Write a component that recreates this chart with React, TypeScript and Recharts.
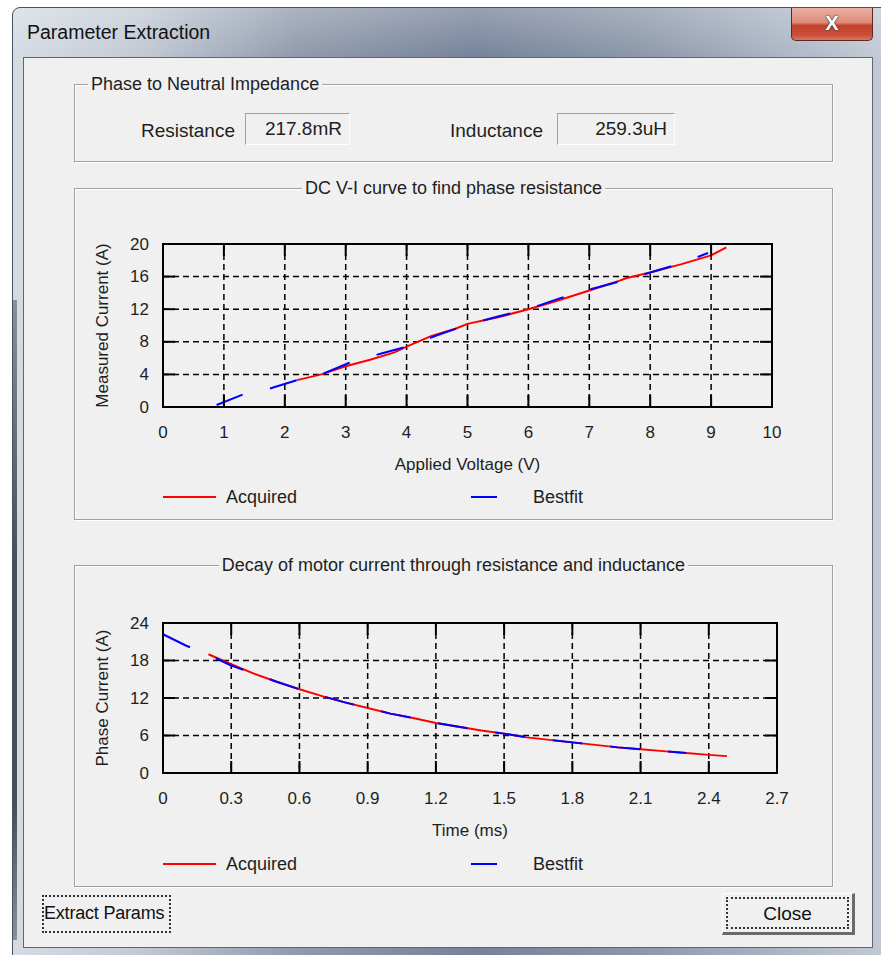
import React from 'react';
import { CartesianGrid, Line, LineChart, ReferenceArea, XAxis, YAxis } from 'recharts';

// DC V-I curve (Applied Voltage V -> Measured Current A)
const dcAcquiredVolts = [2.2, 2.6, 3.0, 3.4, 3.8, 4.0, 4.4, 4.8, 5.0, 5.5, 6.0, 6.5, 7.0, 7.5, 7.6, 8.0, 8.5, 9.0, 9.25];
const dcAcquiredAmps = [3.3, 4.0, 5.0, 5.8, 6.7, 7.4, 8.7, 9.6, 10.2, 11.0, 12.0, 13.1, 14.3, 15.5, 15.8, 16.5, 17.5, 18.6, 19.6];
const dcBestfitVolts = [0.88, 1.32, 1.77, 2.2, 2.6, 3.05, 3.6, 4.0, 4.5, 5.0, 5.5, 6.0, 6.5, 7.0, 7.5, 8.0, 8.5, 8.95];
const dcBestfitAmps = [0.25, 1.55, 2.3, 3.3, 4.0, 5.4, 6.6, 7.4, 8.8, 10.1, 11.1, 12.0, 13.3, 14.4, 15.4, 16.5, 17.6, 18.9];
const dcVoltTicks = [0, 1, 2, 3, 4, 5, 6, 7, 8, 9, 10];
const dcAmpTicks = [0, 4, 8, 12, 16, 20];

// Current decay (Time ms -> Phase Current A)
const decayAcquiredMs = [0.2, 0.3, 0.4, 0.5, 0.6, 0.7, 0.8, 0.9, 1.0, 1.1, 1.2, 1.3, 1.4, 1.5, 1.6, 1.7, 1.8, 1.9, 2.0, 2.1, 2.2, 2.3, 2.4, 2.48];
const decayAcquiredAmps = [19.0, 17.4, 15.9, 14.6, 13.4, 12.3, 11.3, 10.4, 9.5, 8.8, 8.0, 7.4, 6.8, 6.3, 5.7, 5.3, 4.9, 4.5, 4.1, 3.8, 3.5, 3.2, 2.9, 2.7];
const decayBestfitMs = [0, 0.1, 0.2, 0.3, 0.4, 0.5, 0.6, 0.7, 0.8, 0.9, 1.0, 1.1, 1.2, 1.3, 1.4, 1.5, 1.6, 1.7, 1.8, 1.9, 2.0, 2.1, 2.2, 2.3];
const decayBestfitAmps = [22.2, 20.4, 18.9, 17.2, 15.9, 14.6, 13.4, 12.3, 11.3, 10.4, 9.5, 8.8, 8.0, 7.4, 6.8, 6.3, 5.7, 5.3, 4.9, 4.5, 4.1, 3.8, 3.5, 3.2];
const decayMsTicks = [0, 0.3, 0.6, 0.9, 1.2, 1.5, 1.8, 2.1, 2.4, 2.7];
const decayAmpTicks = [0, 6, 12, 18, 24];

const legendItems = [
  { name: 'Acquired', color: '#ff0000', lineWidth: 53 },
  { name: 'Bestfit', color: '#0000ff', lineWidth: 26 },
];

const FONT = '"Liberation Sans", Arial, sans-serif';
const TEXT = '#1e1e1e';

const zip = (xs: number[], ys: number[]) => xs.map((x, i) => ({ x, y: ys[i] }));

function makeXTick(plotHeight: number) {
  return (props: any) => {
    const { x, y, payload } = props;
    return (
      <g>
        <line x1={x} y1={y} x2={x} y2={y - 12} stroke="#000" strokeWidth={2} />
        <line x1={x} y1={y - plotHeight} x2={x} y2={y - plotHeight + 12} stroke="#000" strokeWidth={2} />
        <text x={x} y={y + 25} textAnchor="middle" dominantBaseline="central" fontSize={17} fill={TEXT}>
          {payload.value}
        </text>
      </g>
    );
  };
}

function makeYTick(plotWidth: number) {
  return (props: any) => {
    const { x, y, payload } = props;
    return (
      <g>
        <line x1={x} y1={y} x2={x + 12} y2={y} stroke="#000" strokeWidth={2} />
        <line x1={x + plotWidth} y1={y} x2={x + plotWidth - 12} y2={y} stroke="#000" strokeWidth={2} />
        <text x={x - 14} y={y} textAnchor="end" dominantBaseline="central" fontSize={17} fill={TEXT}>
          {payload.value}
        </text>
      </g>
    );
  };
}

interface CurveChartProps {
  left: number;
  top: number;
  width: number;
  height: number;
  marginTop: number;
  marginRight: number;
  xAxisHeight: number;
  xLabel: string;
  yLabel: string;
  xTicks: number[];
  yTicks: number[];
  acquired: { x: number; y: number }[];
  bestfit: { x: number; y: number }[];
  dash: string;
}

function CurveChart(p: CurveChartProps) {
  const yAxisWidth = 83;
  const plotWidth = p.width - yAxisWidth - p.marginRight;
  const plotHeight = p.height - p.marginTop - p.xAxisHeight;
  const xMax = p.xTicks[p.xTicks.length - 1];
  const yMax = p.yTicks[p.yTicks.length - 1];
  return (
    <div style={{ position: 'absolute', left: p.left, top: p.top }}>
      <LineChart
        width={p.width}
        height={p.height}
        margin={{ top: p.marginTop, right: p.marginRight, bottom: 0, left: 0 }}
        style={{ fontFamily: FONT }}
      >
        <CartesianGrid stroke="#000" strokeWidth={1.5} strokeDasharray="6 4" />
        <XAxis
          dataKey="x"
          type="number"
          domain={[0, xMax]}
          ticks={p.xTicks}
          interval={0}
          height={p.xAxisHeight}
          axisLine={false}
          tickLine={false}
          tickSize={0}
          tickMargin={0}
          tick={makeXTick(plotHeight)}
          label={{ value: p.xLabel, position: 'insideBottom', offset: p.xAxisHeight - 63, fontSize: 17, fill: TEXT }}
        />
        <YAxis
          dataKey="y"
          type="number"
          domain={[0, yMax]}
          ticks={p.yTicks}
          interval={0}
          width={yAxisWidth}
          axisLine={false}
          tickLine={false}
          tickSize={0}
          tickMargin={0}
          tick={makeYTick(plotWidth)}
          label={{
            value: p.yLabel,
            angle: -90,
            position: 'insideLeft',
            offset: 22,
            fontSize: 17,
            fill: TEXT,
            style: { textAnchor: 'middle' },
          }}
        />
        <ReferenceArea x1={0} x2={xMax} y1={0} y2={yMax} fill="none" stroke="#000" strokeWidth={2} ifOverflow="visible" />
        <Line
          data={p.acquired}
          dataKey="y"
          type="linear"
          stroke="#ff0000"
          strokeWidth={2}
          dot={false}
          isAnimationActive={false}
        />
        <Line
          data={p.bestfit}
          dataKey="y"
          type="linear"
          stroke="#0000ff"
          strokeWidth={2}
          strokeDasharray={p.dash}
          dot={false}
          isAnimationActive={false}
        />
      </LineChart>
    </div>
  );
}

function Legend({ top }: { top: number }) {
  const lefts = [163, 471];
  const textLefts = [226, 533];
  return (
    <>
      {legendItems.map((item, i) => (
        <React.Fragment key={item.name}>
          <div
            style={{
              position: 'absolute',
              left: lefts[i],
              top: top - 1,
              width: item.lineWidth,
              height: 2,
              background: item.color,
            }}
          />
          <div style={{ position: 'absolute', left: textLefts[i], top: top - 11, fontSize: 18, lineHeight: '22px', color: TEXT }}>
            {item.name}
          </div>
        </React.Fragment>
      ))}
    </>
  );
}

function GroupBox({ left, top, width, height, title, centered }: any) {
  return (
    <>
      <div
        style={{
          position: 'absolute',
          left,
          top,
          width,
          height,
          boxSizing: 'border-box',
          border: '1px solid #a0a0a0',
          boxShadow: 'inset 1px 1px 0 #fff, 1px 1px 0 #fff',
        }}
      />
      <div
        style={{
          position: 'absolute',
          top: top - 12,
          left: centered ? left : left + 14,
          width: centered ? width : undefined,
          textAlign: 'center',
          fontSize: 18,
          lineHeight: '24px',
          color: TEXT,
        }}
      >
        <span style={{ background: '#f0f0f0', padding: '0 3px' }}>{title}</span>
      </div>
    </>
  );
}

function ValueBox({ left, width, value }: { left: number; width: number; value: string }) {
  return (
    <div
      style={{
        position: 'absolute',
        left,
        top: 113,
        width,
        height: 32,
        boxSizing: 'border-box',
        borderTop: '1px solid #a0a0a0',
        borderLeft: '1px solid #a0a0a0',
        borderBottom: '1px solid #fff',
        borderRight: '1px solid #fff',
        textAlign: 'right',
        paddingRight: 7,
        fontSize: 19,
        lineHeight: '30px',
        color: TEXT,
      }}
    >
      {value}
    </div>
  );
}

function Button({ left, width, label, isDefault }: { left: number; width: number; label: string; isDefault?: boolean }) {
  return (
    <div
      style={{
        position: 'absolute',
        left,
        top: 893,
        width,
        height: 42,
        boxSizing: 'border-box',
        background: '#f0f0f0',
        border: isDefault ? '2px solid #5a5a5a' : undefined,
        borderTop: isDefault ? undefined : '1px solid #fff',
        borderLeft: isDefault ? undefined : '1px solid #fff',
        borderRight: isDefault ? undefined : '3px solid #6a6a6a',
        borderBottom: isDefault ? undefined : '3px solid #6a6a6a',
        padding: isDefault ? 2 : 3,
      }}
    >
      <div
        style={{
          width: '100%',
          height: '100%',
          boxSizing: 'border-box',
          border: '2px dotted #333',
          whiteSpace: 'nowrap',
          textAlign: isDefault ? 'left' : 'center',
          fontSize: isDefault ? 18 : 19,
          letterSpacing: isDefault ? -0.2 : 0,
          lineHeight: isDefault ? '32px' : '30px',
          color: '#111',
          paddingLeft: 0,
        }}
      >
        {label}
      </div>
    </div>
  );
}

export default function App() {
  return (
    <div
      style={{
        position: 'absolute',
        left: 0,
        top: 0,
        width: 881,
        height: 955,
        overflow: 'hidden',
        background: '#fff',
        fontFamily: FONT,
      }}
    >
      {/* window frame */}
      <div
        style={{
          position: 'absolute',
          left: 12,
          top: 7,
          width: 890,
          height: 970,
          boxSizing: 'border-box',
          borderRadius: '8px 8px 0 0',
          border: '1px solid #4a5262',
          background:
            'linear-gradient(180deg, rgba(255,255,255,0.25) 0px, rgba(255,255,255,0) 50px), linear-gradient(90deg, #d5dbe3 0%, #c3cad5 14%, #8f9aac 32%, #76829a 52%, #8a96a9 70%, #aeb8c6 88%, #c6cdd8 100%)',
        }}
      />
      <div style={{ position: 'absolute', left: 13, top: 300, width: 4, height: 640, background: 'linear-gradient(180deg, #8a8f98, #4a4f58 40%, #4a4f58 80%, #8a8f98)' }} />
      <div style={{ position: 'absolute', left: 27, top: 19, fontSize: 19.5, lineHeight: '26px', color: '#111' }}>
        Parameter Extraction
      </div>
      {/* close button */}
      <div
        style={{
          position: 'absolute',
          left: 791,
          top: 8,
          width: 82,
          height: 33,
          boxSizing: 'border-box',
          border: '1px solid #5a2a22',
          borderTop: 'none',
          borderRadius: '0 0 5px 5px',
          background: 'linear-gradient(180deg, #eab0a4 0%, #dc8b7b 45%, #c4402a 55%, #c9503a 85%, #d8775f 100%)',
          color: '#fff',
          fontWeight: 'bold',
          fontSize: 20,
          lineHeight: '30px',
          textAlign: 'center',
          textShadow: '0 0 2px #333, 0 0 1px #333',
        }}
      >
        X
      </div>
      {/* client area */}
      <div
        style={{
          position: 'absolute',
          left: 23,
          top: 57,
          width: 850,
          height: 891,
          boxSizing: 'border-box',
          background: '#f0f0f0',
          border: '1px solid #5e6674',
        }}
      />

      <GroupBox left={74} top={84} width={759} height={78} title="Phase to Neutral Impedance" />
      <div style={{ position: 'absolute', left: 141, top: 119, fontSize: 19, lineHeight: '24px', color: TEXT }}>Resistance</div>
      <ValueBox left={245} width={105} value="217.8mR" />
      <div style={{ position: 'absolute', left: 450, top: 119, fontSize: 19, lineHeight: '24px', color: TEXT }}>Inductance</div>
      <ValueBox left={557} width={118} value="259.3uH" />

      <GroupBox left={74} top={188} width={759} height={332} title="DC V-I curve to find phase resistance" centered />
      <CurveChart
        left={80}
        top={225}
        width={720}
        height={260}
        marginTop={19}
        marginRight={28}
        xAxisHeight={78}
        xLabel="Applied Voltage (V)"
        yLabel="Measured Current (A)"
        xTicks={dcVoltTicks}
        yTicks={dcAmpTicks}
        acquired={zip(dcAcquiredVolts, dcAcquiredAmps)}
        bestfit={zip(dcBestfitVolts, dcBestfitAmps)}
        dash="28 28"
      />
      <Legend top={497} />

      <GroupBox left={74} top={565} width={759} height={322} title="Decay of motor current through resistance and inductance" centered />
      <CurveChart
        left={80}
        top={600}
        width={730}
        height={260}
        marginTop={23}
        marginRight={33}
        xAxisHeight={87}
        xLabel="Time (ms)"
        yLabel="Phase Current (A)"
        xTicks={decayMsTicks}
        yTicks={decayAmpTicks}
        acquired={zip(decayAcquiredMs, decayAcquiredAmps)}
        bestfit={zip(decayBestfitMs, decayBestfitAmps)}
        dash="30 28"
      />
      <Legend top={864} />

      <Button left={40} width={133} label="Extract Params" isDefault />
      <Button left={722} width={133} label="Close" />
    </div>
  );
}
